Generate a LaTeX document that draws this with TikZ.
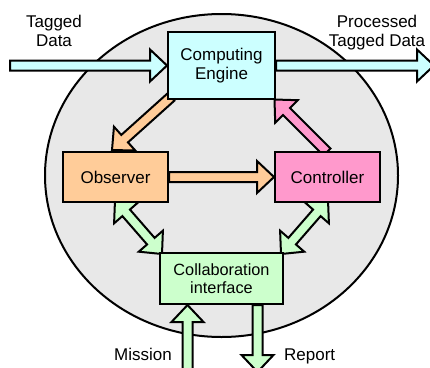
\documentclass[tikz,border=0pt]{standalone}
\usepackage{fontspec}
\setmainfont{Liberation Sans}
\usetikzlibrary{calc}
\pgfdeclarelayer{bg}
\pgfdeclarelayer{arr}
\pgfsetlayers{bg,arr,main}
\definecolor{cefill}{HTML}{CCFFFF}
\definecolor{obsfill}{HTML}{FFCC99}
\definecolor{ctlfill}{HTML}{FF99CC}
\definecolor{colfill}{HTML}{CCFFCC}
\definecolor{envfill}{HTML}{E8E8E8}
\def\shaftw{5pt}
\def\headw{16pt}
\def\headlen{17pt}
\newcommand\singlearrow[3]{%
  \coordinate (ba-b) at ($(#3)!\headlen!(#2)$);
  \draw[#1] ($(#2)!\shaftw!90:(#3)$) -- ($(ba-b)!\shaftw!90:(#3)$) -- ($(ba-b)!\headw!90:(#3)$) -- (#3)
    -- ($(ba-b)!\headw!-90:(#3)$) -- ($(ba-b)!\shaftw!-90:(#3)$) -- ($(#2)!\shaftw!-90:(#3)$) -- cycle;
}
\newcommand\doublearrow[3]{%
  \coordinate (da-a) at ($(#2)!\headlen!(#3)$);
  \coordinate (da-b) at ($(#3)!\headlen!(#2)$);
  \draw[#1] (#2) -- ($(da-a)!\headw!90:(#3)$) -- ($(da-a)!\shaftw!90:(#3)$) -- ($(da-b)!\shaftw!90:(#3)$)
    -- ($(da-b)!\headw!90:(#3)$) -- (#3) -- ($(da-b)!\headw!-90:(#3)$) -- ($(da-b)!\shaftw!-90:(#3)$)
    -- ($(da-a)!\shaftw!-90:(#3)$) -- ($(da-a)!\headw!-90:(#3)$) -- cycle;
}
\begin{document}
\begin{tikzpicture}[x=1pt,y=-1pt,
  box/.style={draw, line width=2pt, inner sep=0pt, align=center, font=\fontsize{17}{19}\selectfont},
  lbl/.style={inner sep=0pt, align=center, font=\fontsize{17}{19}\selectfont},
  barrow/.style={draw, line width=2pt, line join=miter}]
\useasboundingbox (0,0) rectangle (430,367);
% boxes
\node[box, fill=cefill, minimum width=107pt, minimum height=67pt] (ce) at (221.5,65.5) {Computing\\Engine};
\node[box, fill=obsfill, minimum width=105pt, minimum height=50pt] (obs) at (115.5,177) {Observer};
\node[box, fill=ctlfill, minimum width=105pt, minimum height=50pt] (ctl) at (327.5,177) {Controller};
\node[box, fill=colfill, minimum width=123pt, minimum height=51pt, font=\fontsize{16.3}{18}\selectfont] (col) at (221.5,278.5) {Collaboration\\interface};
% labels
\node[lbl] (tdl) at (54,31) {Tagged\\Data};
\node[lbl] (ptl) at (377,32.5) {Processed\\Tagged Data};
\node[lbl, anchor=base east] (mil) at (172,360) {Mission};
\node[lbl, anchor=base west] (rpl) at (284,360) {Report};
% environment
\begin{pgfonlayer}{bg}
\draw[line width=2pt, fill=envfill] (221.5,175.5) ellipse [x radius=176.5pt, y radius=161.5pt];
\end{pgfonlayer}
% connectors
\begin{pgfonlayer}{arr}
\coordinate (tdin) at (10,65.5);
\coordinate (pdout) at (434,65.5);
\coordinate (o1) at ($(ce.south west)+(4,-3)$);
\coordinate (o2) at ($(obs.north west)+(50,-1)$);
\coordinate (p1) at ($(ctl.north west)+(53,1)$);
\coordinate (p2) at ($(ce.south east)+(-1.5,-0.5)$);
\coordinate (g1) at ($(obs.south west)+(53,-3)$);
\coordinate (g2) at ($(col.north west)+(3,2)$);
\coordinate (g3) at ($(ctl.south east)+(-53,-3)$);
\coordinate (g4) at ($(col.north east)+(-3,2)$);
\coordinate (mi1) at (187.5,385);
\coordinate (mi2) at ($(col.south west)+(28.5,0)$);
\coordinate (re1) at ($(col.south east)+(-26.5,0)$);
\coordinate (re2) at (257.5,372);
\singlearrow{barrow, fill=cefill}{tdin}{ce.west}
\singlearrow{barrow, fill=cefill}{ce.east}{pdout}
\singlearrow{barrow, fill=obsfill}{o1}{o2}
\singlearrow{barrow, fill=obsfill}{obs.east}{ctl.west}
\singlearrow{barrow, fill=ctlfill}{p1}{p2}
\doublearrow{barrow, fill=colfill}{g1}{g2}
\doublearrow{barrow, fill=colfill}{g3}{g4}
\singlearrow{barrow, fill=colfill}{mi1}{mi2}
\singlearrow{barrow, fill=colfill}{re1}{re2}
\end{pgfonlayer}
\end{tikzpicture}
\end{document}
